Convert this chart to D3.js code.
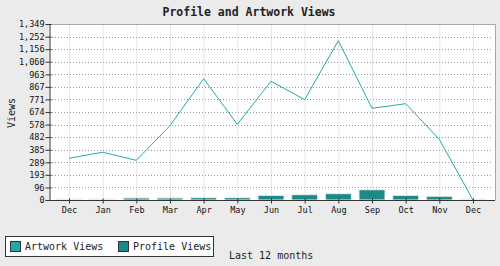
<!DOCTYPE html>
<html>
<head>
<meta charset="utf-8">
<script src="https://cdn.jsdelivr.net/npm/d3@7"></script>
<style>
  body { margin: 0; background: #ebebeb; }
  svg { display: block; }
</style>
</head>
<body>
<svg id="views_viz"></svg>
<script>
// Months along the x axis (last 12 months)
const months = ["Dec", "Jan", "Feb", "Mar", "Apr", "May", "Jun", "Jul", "Aug", "Sep", "Oct", "Nov", "Dec2"];
const monthLabels = ["Dec", "Jan", "Feb", "Mar", "Apr", "May", "Jun", "Jul", "Aug", "Sep", "Oct", "Nov", "Dec"];

// Series values
const artworkViews = [320, 366, 304, 570, 930, 580, 910, 769, 1221, 703, 738, 465, 0];
const profileViews = [0, 0, 8, 8, 10, 10, 28, 33, 41, 71, 28, 21, 0];

// Y axis tick values
const yTicks = [0, 96, 193, 289, 385, 482, 578, 674, 771, 867, 963, 1060, 1156, 1252, 1349];

const dims = {
  width: 500,
  height: 266,
  left: 49,
  right: 495,
  top: 24,
  bottom: 200
};

const font = "'DejaVu Sans Mono', 'Liberation Mono', monospace";
const lineColor = "#22aaa8";
const barColor = "#1d8a88";

const svg = d3.select("#views_viz")
    .attr("width", dims.width)
    .attr("height", dims.height);

let x = d3.scalePoint()
    .domain(months)
    .range([69, 473]);

let y = d3.scaleLinear()
    .domain([0, 1349])
    .range([dims.bottom, dims.top]);

// plot background
svg.append("rect")
    .attr("x", dims.left)
    .attr("y", dims.top)
    .attr("width", dims.right - dims.left)
    .attr("height", dims.bottom - dims.top)
    .attr("fill", "#fff");

// vertical grid lines
svg.append("g")
    .selectAll("line")
    .data(months)
    .join("line")
    .attr("x1", d => x(d) + 0.5)
    .attr("x2", d => x(d) + 0.5)
    .attr("y1", dims.top)
    .attr("y2", dims.bottom)
    .attr("stroke", "#e6e6e6")
    .attr("stroke-width", 1);

// horizontal dotted grid lines
svg.append("g")
    .selectAll("line")
    .data(yTicks.slice(1))
    .join("line")
    .attr("x1", dims.left + 3)
    .attr("x2", dims.right - 2)
    .attr("y1", d => Math.round(y(d)) + 0.5)
    .attr("y2", d => Math.round(y(d)) + 0.5)
    .attr("stroke", "#999")
    .attr("stroke-dasharray", "1,2");

// plot border top/right
svg.append("path")
    .attr("d", `M${dims.left},${dims.top + 0.5}H${dims.right + 0.5}V${dims.bottom}`)
    .attr("fill", "none")
    .attr("stroke", "#a8a8a8");

// bars for profile views
const barW = 26;
svg.append("g")
    .selectAll("rect")
    .data(profileViews)
    .join("rect")
    .attr("x", (d, i) => x(months[i]) - barW / 2)
    .attr("y", d => y(d) - 1)
    .attr("width", barW)
    .attr("height", d => dims.bottom - y(d) + 1)
    .attr("fill", barColor)
    .attr("stroke", "#eeeeee")
    .attr("stroke-width", 1);

// line for artwork views
let line = d3.line()
    .x((d, i) => x(months[i]))
    .y(d => y(d));

svg.append("path")
    .datum(artworkViews)
    .attr("fill", "none")
    .attr("stroke", lineColor)
    .attr("stroke-width", 1)
    .attr("d", line);

// x axis
let xAxis = g => g
    .attr("transform", `translate(0, ${dims.bottom + 0.5})`)
    .call(d3.axisBottom(x).tickSize(4).tickSizeOuter(0).tickFormat((d, i) => monthLabels[i]))
    .call(g => g.select(".domain").attr("d", `M${dims.left},0H${dims.right}`).attr("stroke", "#333"))
    .call(g => g.selectAll(".tick line").attr("stroke", "#333").attr("y1", -2).attr("y2", 3))
    .call(g => g.selectAll(".tick text").attr("y", 6).attr("fill", "#111")
        .style("font-family", font).style("font-size", "8.5px"));

// y axis
let yAxis = g => g
    .attr("transform", `translate(${dims.left + 0.5}, 0)`)
    .call(d3.axisLeft(y).tickValues(yTicks).tickSize(4).tickSizeOuter(0).tickFormat(d3.format(",")))
    .call(g => g.select(".domain").attr("stroke", "#333"))
    .call(g => g.selectAll(".tick line").attr("stroke", "#333").attr("x1", 2))
    .call(g => g.selectAll(".tick text").attr("x", -5).attr("fill", "#111")
        .style("font-family", font).style("font-size", "8.5px"));

svg.append("g").call(xAxis);
svg.append("g").call(yAxis);

// title
svg.append("text")
    .attr("x", 249)
    .attr("y", 16)
    .attr("text-anchor", "middle")
    .style("font-family", font)
    .style("font-size", "11.5px")
    .style("font-weight", "bold")
    .attr("fill", "#222")
    .text("Profile and Artwork Views");

// y axis title
svg.append("text")
    .attr("transform", "translate(15, 113) rotate(-90)")
    .attr("text-anchor", "middle")
    .style("font-family", font)
    .style("font-size", "10px")
    .attr("fill", "#222")
    .text("Views");

// legend
const legend = svg.append("g");
legend.append("rect")
    .attr("x", 5.5)
    .attr("y", 236.5)
    .attr("width", 208)
    .attr("height", 20)
    .attr("fill", "#fff")
    .attr("stroke", "#333");

const legendItems = [
  { label: "Artwork Views", color: lineColor, x: 10 },
  { label: "Profile Views", color: barColor, x: 118 }
];
legendItems.forEach(item => {
  legend.append("rect")
      .attr("x", item.x + 0.5)
      .attr("y", 241.5)
      .attr("width", 10)
      .attr("height", 10)
      .attr("fill", item.color)
      .attr("stroke", "#333");
  legend.append("text")
      .attr("x", item.x + 15)
      .attr("y", 250)
      .style("font-family", font)
      .style("font-size", "10px")
      .attr("fill", "#222")
      .text(item.label);
});

// caption
svg.append("text")
    .attr("x", 229)
    .attr("y", 259)
    .style("font-family", font)
    .style("font-size", "10px")
    .attr("fill", "#222")
    .text("Last 12 months");
</script>
</body>
</html>
